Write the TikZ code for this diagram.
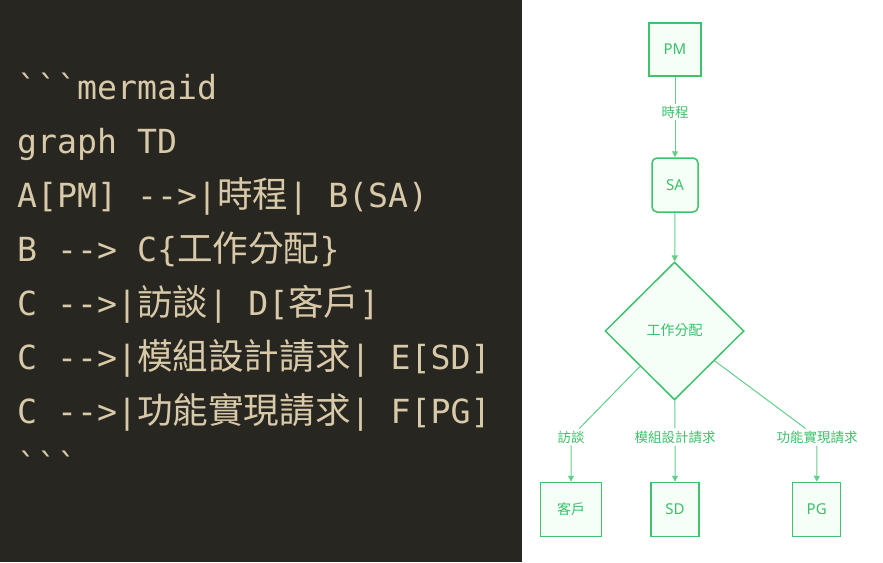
\documentclass[tikz,border=0pt]{standalone}
\usepackage{fontspec}
\setmonofont{DejaVu Sans Mono}
\newfontfamily\cjk{Noto Sans CJK TC}
\newfontfamily\lat{Noto Sans}
\usetikzlibrary{shapes.geometric,arrows.meta}
\definecolor{codebg}{HTML}{282621}
\definecolor{codefg}{HTML}{D8C9A8}
\definecolor{nodeline}{HTML}{3EC26C}
\definecolor{edgeline}{HTML}{62CE89}
\definecolor{nodefill}{HTML}{F6FEF8}
\definecolor{greentext}{HTML}{3BBF69}
\newcommand{\cjkc}[1]{{\fontsize{35.6pt}{40pt}\selectfont\cjk #1}}
\begin{document}
\begin{tikzpicture}[x=1pt,y=-1pt,
  codeline/.style={anchor=base west, inner sep=0pt, text=codefg, font=\fontsize{33.2pt}{40pt}\selectfont\ttfamily},
  box/.style={draw=nodeline, fill=nodefill, line width=1.5pt, inner sep=0pt, text=greentext, font=\fontsize{14pt}{16pt}\selectfont\cjk},
  latbox/.style={box, font=\fontsize{15pt}{17pt}\selectfont\lat},
  decision/.style={box, diamond, shape aspect=1, minimum width=139pt, minimum height=138pt},
  elabel/.style={inner sep=2pt, text=greentext, font=\fontsize{13.5pt}{15pt}\selectfont\cjk},
  edge/.style={draw=edgeline, line width=1pt, -{Triangle[width=6pt,length=6pt]}}]
\useasboundingbox (0,0) rectangle (883,562);
\fill[codebg] (0,0) rectangle (522,562);

\node[codeline] (c1) at (17,99) {```mermaid};
\node[codeline] (c2) at (17,153) {graph TD};
\node[codeline] (c3) at (17,207) {A[PM] -->|\cjkc{時程}| B(SA)};
\node[codeline] (c4) at (17,261) {B --> C\{\cjkc{工作分配}\}};
\node[codeline] (c5) at (17,315) {C -->|\cjkc{訪談}| D[\cjkc{客戶}]};
\node[codeline] (c6) at (17,369) {C -->|\cjkc{模組設計請求}| E[SD]};
\node[codeline] (c7) at (17,423) {C -->|\cjkc{功能實現請求}| F[PG]};
\node[codeline] (c8) at (17,477) {```};

\node[latbox, minimum width=52pt, minimum height=53pt] (A) at (675,49.5) {PM};
\node[latbox, rounded corners=5pt, minimum width=46pt, minimum height=54pt] (B) at (675,185) {SA};
\node[decision] (C) at (674.5,331) {\raisebox{3pt}{工作分配}};
\node[box, minimum width=61pt, minimum height=54pt] (D) at (571,509.5) {客戶};
\node[latbox, minimum width=48pt, minimum height=54pt] (E) at (675,509.5) {SD};
\node[latbox, minimum width=48pt, minimum height=54pt] (F) at (816.7,509.5) {PG};

\node[elabel] (l1) at (675,112) {時程};
\node[elabel] (l2) at (571,437) {訪談};
\node[elabel] (l3) at (675,437) {模組設計請求};
\node[elabel] (l4) at (817,437) {功能實現請求};

\draw[edge] (A) -- (l1) -- (B);
\draw[edge] (B) -- (C);
\draw[edge] (C) -- (l2) -- (D);
\draw[edge] (C) -- (l3) -- (E);
\draw[edge] (C) -- (l4) -- (F);
\end{tikzpicture}
\end{document}
